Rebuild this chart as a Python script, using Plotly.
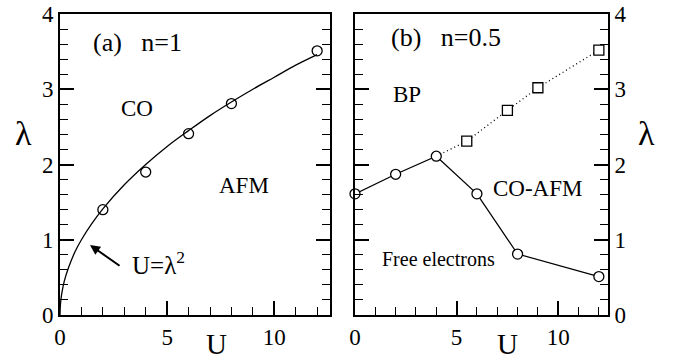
import plotly.graph_objects as go

# Panel (a) n=1
a_U = [2, 4, 6, 8, 12]
a_lam = [1.4, 1.9, 2.41, 2.81, 3.51]
# curve U = lambda^2
curve_U = [0, 0.02, 0.08, 0.2, 0.4, 0.7, 1.0, 1.5, 2.0, 3.0, 4.0, 5.0, 6.0, 7.0, 8.0, 9.0, 10.0, 11.0, 12.0]
curve_lam = [0, 0.14, 0.28, 0.45, 0.63, 0.84, 1.0, 1.22, 1.41, 1.73, 2.0, 2.24, 2.45, 2.65, 2.83, 3.0, 3.16, 3.32, 3.46]

# Panel (b) n=0.5
b_U_circ = [0, 2, 4, 6, 8, 12]
b_lam_circ = [1.61, 1.87, 2.11, 1.61, 0.81, 0.51]
b_U_sq = [5.5, 7.5, 9, 12]
b_lam_sq = [2.31, 2.72, 3.02, 3.52]
b_U_dot = [4, 5.5, 7.5, 9, 12]
b_lam_dot = [2.11, 2.31, 2.72, 3.02, 3.52]

FONT = "Liberation Serif"
W, H = 676, 364

def px_x(p):
    return p / W

def px_y(p):
    return 1 - p / H

fig = go.Figure()
fig.add_trace(go.Scatter(x=curve_U, y=curve_lam, mode="lines", line=dict(color="black", width=1.3, shape="spline"),
                         xaxis="x", yaxis="y", showlegend=False, hoverinfo="skip"))
fig.add_trace(go.Scatter(x=a_U, y=a_lam, mode="markers",
                         marker=dict(symbol="circle-open", size=10, color="black", line=dict(width=1.3)),
                         xaxis="x", yaxis="y", showlegend=False, cliponaxis=False))
fig.add_trace(go.Scatter(x=b_U_dot, y=b_lam_dot, mode="lines", line=dict(color="black", width=1.3, dash="1px,3px"),
                         xaxis="x2", yaxis="y2", showlegend=False, hoverinfo="skip"))
fig.add_trace(go.Scatter(x=b_U_circ, y=b_lam_circ, mode="lines+markers", line=dict(color="black", width=1.3),
                         marker=dict(symbol="circle", size=10, color="white", line=dict(width=1.3, color="black")),
                         xaxis="x2", yaxis="y2", showlegend=False, cliponaxis=False))
fig.add_trace(go.Scatter(x=b_U_sq, y=b_lam_sq, mode="markers",
                         marker=dict(symbol="square", size=10, color="white", line=dict(width=1.3, color="black")),
                         xaxis="x2", yaxis="y2", showlegend=False, cliponaxis=False))

TICKFONT = dict(family=FONT, size=23, color="black")

def xax(domain, rng):
    return dict(domain=domain, range=rng, showgrid=False, zeroline=False, showline=True, linecolor="black",
                linewidth=2, mirror=True, ticks="inside", ticklen=14, tickwidth=1.5, tickcolor="black",
                dtick=5, tick0=0, automargin=False, tickfont=TICKFONT,
                minor=dict(dtick=1, tick0=0, ticks="inside", ticklen=8, tickwidth=1.2, tickcolor="black"))

def yax(domain, side, anchor):
    return dict(domain=domain, range=[0, 4], showgrid=False, zeroline=False, showline=True, linecolor="black",
                linewidth=2, mirror="ticks", ticks="inside", ticklen=14, tickwidth=1.5, tickcolor="black",
                dtick=1, tick0=0, side=side, anchor=anchor, automargin=False, tickfont=TICKFONT,
                minor=dict(dtick=0.2, tick0=0, ticks="inside", ticklen=8, tickwidth=1.2, tickcolor="black"))

ydom = [px_y(315), px_y(14)]
fig.update_layout(
    template="none",
    font=dict(family=FONT, size=20, color="black"),
    width=W, height=H, margin=dict(l=0, r=0, t=0, b=0, pad=0), autosize=False,
    paper_bgcolor="white", plot_bgcolor="white",
    xaxis=dict(**xax([px_x(60), px_x(330)], [0, 12.6]), anchor="y"),
    yaxis=yax(ydom, "left", "x"),
    xaxis2=dict(**xax([px_x(355), px_x(608)], [0, 12.45]), anchor="y2"),
    yaxis2=yax(ydom, "right", "x2"),
)

def ann(text, x, y, size, xref="paper", yref="paper", **kw):
    fig.add_annotation(text=text, x=x, y=y, xref=xref, yref=yref, showarrow=False,
                       xanchor="center", yanchor="middle",
                       font=dict(family=FONT, size=size, color="black"), **kw)

NB = "\u00a0"
# panel (a) labels
ann("(a)" + NB * 3 + "n=1", px_x(137.5), px_y(42), 26)
ann("CO", px_x(137), px_y(108), 23)
ann("AFM", px_x(244), px_y(185), 23)
ann("U=λ<sup>2</sup>", px_x(158), px_y(263), 25)
fig.add_annotation(x=1.4, y=0.93, ax=2.85, ay=0.64, xref="x", yref="y", axref="x", ayref="y",
                   showarrow=True, arrowhead=2, arrowsize=1, arrowwidth=2, arrowcolor="black", text="")

# panel (b) labels
ann("(b)" + NB * 3 + "n=0.5", px_x(446), px_y(38), 26)
ann("BP", px_x(407), px_y(95), 23)
ann("CO-AFM", px_x(537), px_y(188), 23)
ann("Free electrons", px_x(438), px_y(259), 20)

# axis titles
ann("λ", px_x(23), px_y(133), 34)
ann("λ", px_x(646), px_y(133), 34)
ann("U", px_x(217), px_y(344), 29)
ann("U", px_x(507), px_y(344), 29)

fig.write_html("out.html", post_script="document.body.style.margin='0';",
               config={"displayModeBar": False})
